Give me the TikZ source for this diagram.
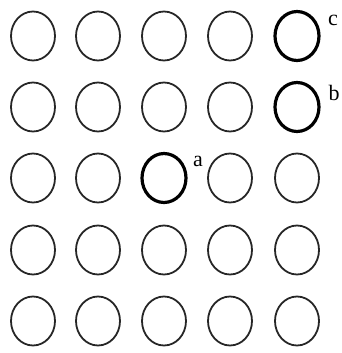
\documentclass[tikz,border=0pt]{standalone}
\usepackage{fontspec}
\setmainfont{Liberation Serif}
\usetikzlibrary{shapes.geometric}
\begin{document}
\begin{tikzpicture}[x=1pt,y=-1pt,
  dot/.style={ellipse,draw=black!85,line width=1.8pt,minimum width=44pt,minimum height=49pt,inner sep=0pt},
  bolddot/.style={dot,draw=black,line width=3.2pt},
  lbl/.style={inner sep=0pt,font=\fontsize{22}{24}\selectfont}]
\useasboundingbox (0,0) rectangle (342,353);
\foreach \c/\x in {1/33,2/98,3/164,4/230,5/297}{
  \foreach \r/\y in {1/36,2/107,3/178,4/250,5/321}{
    \pgfmathtruncatemacro{\isbold}{(\c==5 && \r==1) || (\c==5 && \r==2) || (\c==3 && \r==3)}
    \ifnum\isbold=1
      \node[bolddot] (n\r\c) at (\x,\y) {};
    \else
      \node[dot] (n\r\c) at (\x,\y) {};
    \fi
  }
}
\node[lbl] (lc) at (333,20) {c};
\node[lbl] (lb) at (334,93) {b};
\node[lbl] (la) at (198,161) {a};
\end{tikzpicture}
\end{document}
